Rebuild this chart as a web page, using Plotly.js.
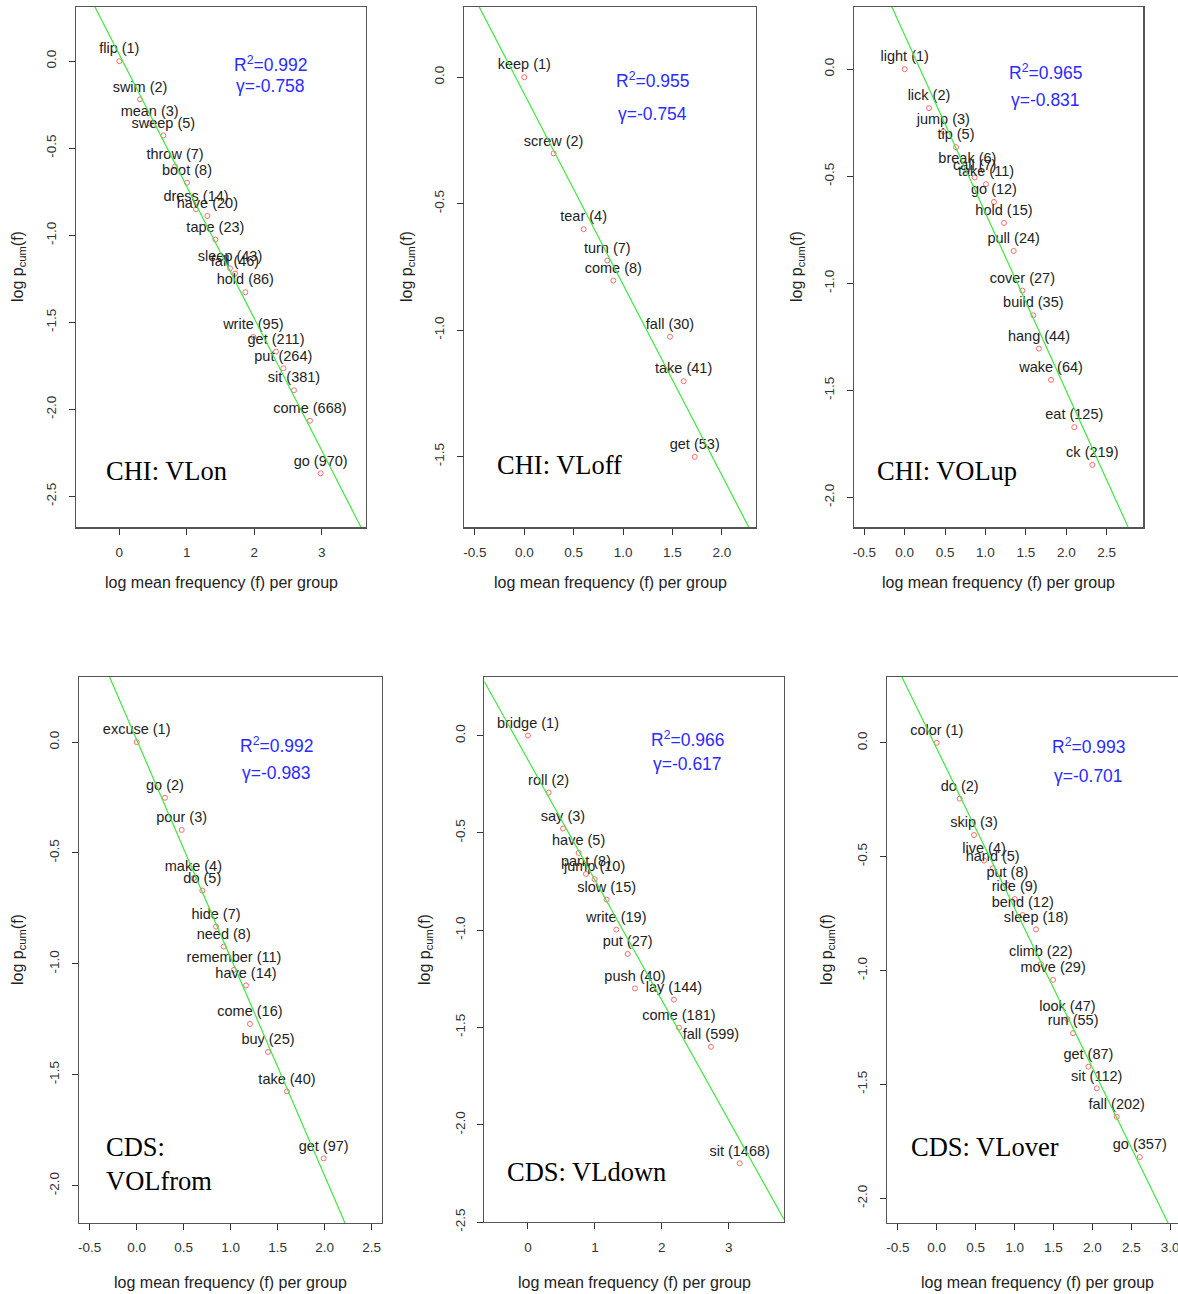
<!DOCTYPE html>
<html><head><meta charset="utf-8">
<script src="https://cdn.plot.ly/plotly-3.0.1.min.js"></script>
<style>html,body{margin:0;padding:0;background:#fff}#chart{width:1178px;height:1294px}</style>
</head><body><div id="chart"></div>
<script>
// ---------- data ----------
const panelNames = ["CHI: VLon", "CHI: VLoff", "CHI: VOLup", "CDS:<br>VOLfrom", "CDS: VLdown", "CDS: VLover"];
const rSquared = ["0.992", "0.955", "0.965", "0.992", "0.966", "0.993"];
const gammaVals = [-0.758, -0.754, -0.831, -0.983, -0.617, -0.701];
const lineIntercepts = [0.038, -0.066, 0.159, 0.010, -0.125, -0.025];

const vlonLabels = ["flip (1)","swim (2)","mean (3)","sweep (5)","throw (7)","boot (8)","dress (14)","have (20)","tape (23)","sleep (43)","fall (46)","hold (86)","write (95)","get (211)","put (264)","sit (381)","come (668)","go (970)"];
const vlonX = [0, 0.307, 0.45, 0.652, 0.826, 1.003, 1.137, 1.305, 1.424, 1.641, 1.715, 1.868, 1.987, 2.323, 2.431, 2.589, 2.826, 2.985];
const vlonY = [0, -0.219, -0.357, -0.426, -0.604, -0.698, -0.85, -0.889, -1.025, -1.19, -1.22, -1.327, -1.584, -1.668, -1.764, -1.89, -2.065, -2.367];

const vloffLabels = ["keep (1)","screw (2)","tear (4)","turn (7)","come (8)","fall (30)","take (41)","get (53)"];
const vloffX = [0, 0.297, 0.601, 0.84, 0.901, 1.475, 1.613, 1.725];
const vloffY = [0, -0.301, -0.601, -0.725, -0.804, -1.026, -1.202, -1.501];

const volupLabels = ["light (1)","lick (2)","jump (3)","tip (5)","break (6)","call (7)","take (11)","go (12)","hold (15)","pull (24)","cover (27)","build (35)","hang (44)","wake (64)","eat (125)","ck (219)"];
const volupX = [0, 0.301, 0.478, 0.635, 0.776, 0.866, 1.006, 1.105, 1.229, 1.349, 1.456, 1.592, 1.662, 1.811, 2.099, 2.322];
const volupY = [0, -0.182, -0.291, -0.364, -0.474, -0.506, -0.537, -0.62, -0.718, -0.849, -1.034, -1.149, -1.305, -1.451, -1.672, -1.848];

const volfromLabels = ["excuse (1)","go (2)","pour (3)","make (4)","do (5)","hide (7)","need (8)","remember (11)","have (14)","come (16)","buy (25)","take (40)","get (97)"];
const volfromX = [0, 0.301, 0.479, 0.603, 0.698, 0.844, 0.926, 1.035, 1.163, 1.205, 1.397, 1.599, 1.989];
const volfromY = [0, -0.251, -0.396, -0.614, -0.67, -0.832, -0.922, -1.027, -1.097, -1.271, -1.397, -1.575, -1.877];

const vldownLabels = ["bridge (1)","roll (2)","say (3)","have (5)","pant (8)","jump (10)","slow (15)","write (19)","put (27)","push (40)","lay (144)","come (181)","fall (599)","sit (1468)"];
const vldownX = [0, 0.309, 0.523, 0.757, 0.867, 0.996, 1.176, 1.32, 1.49, 1.599, 2.182, 2.257, 2.735, 3.164];
const vldownY = [0, -0.293, -0.478, -0.603, -0.711, -0.738, -0.843, -0.997, -1.122, -1.299, -1.357, -1.501, -1.599, -2.198];

const vloverLabels = ["color (1)","do (2)","skip (3)","live (4)","hand (5)","put (8)","ride (9)","bend (12)","sleep (18)","climb (22)","move (29)","look (47)","run (55)","get (87)","sit (112)","fall (202)","go (357)"];
const vloverX = [0, 0.295, 0.479, 0.608, 0.719, 0.908, 1.002, 1.105, 1.276, 1.337, 1.495, 1.679, 1.752, 1.949, 2.056, 2.313, 2.609];
const vloverY = [0, -0.245, -0.405, -0.517, -0.551, -0.624, -0.686, -0.756, -0.819, -0.972, -1.041, -1.213, -1.275, -1.422, -1.517, -1.642, -1.819];

// tick labels
const xTicksVLon = ["0","1","2","3"];
const xTicksVLoff = ["-0.5","0.0","0.5","1.0","1.5","2.0"];
const xTicksVOLup = ["-0.5","0.0","0.5","1.0","1.5","2.0","2.5"];
const xTicksVOLfrom = ["-0.5","0.0","0.5","1.0","1.5","2.0","2.5"];
const xTicksVLdown = ["0","1","2","3"];
const xTicksVLover = ["-0.5","0.0","0.5","1.0","1.5","2.0","2.5","3.0"];
const yTicksVLon = ["0.0","-0.5","-1.0","-1.5","-2.0","-2.5"];
const yTicksVLoff = ["0.0","-0.5","-1.0","-1.5"];
const yTicksVOLup = ["0.0","-0.5","-1.0","-1.5","-2.0"];
const yTicksVOLfrom = ["0.0","-0.5","-1.0","-1.5","-2.0"];
const yTicksVLdown = ["0.0","-0.5","-1.0","-1.5","-2.0","-2.5"];
const yTicksVLover = ["0.0","-0.5","-1.0","-1.5","-2.0"];

// ---------- layout geometry (pixels) ----------
const W = 1178, H = 1294;
const SANS = "Liberation Sans, Arial, Helvetica, sans-serif";
const SERIF = "Liberation Serif, Times New Roman, serif";

const series = [
  {labels: vlonLabels, x: vlonX, y: vlonY, xt: xTicksVLon, yt: yTicksVLon},
  {labels: vloffLabels, x: vloffX, y: vloffY, xt: xTicksVLoff, yt: yTicksVLoff},
  {labels: volupLabels, x: volupX, y: volupY, xt: xTicksVOLup, yt: yTicksVOLup},
  {labels: volfromLabels, x: volfromX, y: volfromY, xt: xTicksVOLfrom, yt: yTicksVOLfrom},
  {labels: vldownLabels, x: vldownX, y: vldownY, xt: xTicksVLdown, yt: yTicksVLdown},
  {labels: vloverLabels, x: vloverX, y: vloverY, xt: xTicksVLover, yt: yTicksVLover}
];

const geo = [
  {box: [76, 365.7, 6.9, 527.4], xr: [-0.642, 3.652], yr: [-2.678, 0.312], stat: [270, 64, 86], name: [104, 471], xtitle: [221, 583], ytitle: [18, 267], mirrorY: true},
  {box: [464, 755.7, 6.9, 527.4], xr: [-0.610, 2.342], yr: [-1.780, 0.278], stat: [652, 80, 114], name: [495, 465], xtitle: [610, 583], ytitle: [407, 267], mirrorY: true},
  {box: [853.7, 1143.3, 6.9, 527.4], xr: [-0.631, 2.953], yr: [-2.140, 0.291], stat: [1045, 72, 100], name: [875, 471], xtitle: [998, 583], ytitle: [797, 267], mirrorY: true},
  {box: [78.7, 382, 677, 1222.9], xr: [-0.617, 2.610], yr: [-2.168, 0.2935], stat: [276, 745, 773], name: [104, 1164], xtitle: [230, 1282], ytitle: [18, 950], mirrorY: true},
  {box: [484.3, 784, 677, 1222.1], xr: [-0.653, 3.827], yr: [-2.5, 0.301], stat: [687, 739, 764], name: [505, 1172], xtitle: [634, 1282], ytitle: [425, 950], mirrorY: true},
  {box: [886.7, 1178, 677, 1222.9], xr: [-0.643, 3.10], yr: [-2.108, 0.289], stat: [1088, 746, 776], name: [909, 1147], xtitle: [1037, 1282], ytitle: [827, 950], mirrorY: false}
];

const traces = [];
const layout = {
  width: W, height: H,
  margin: {l: 0, r: 0, t: 0, b: 0},
  paper_bgcolor: "#ffffff", plot_bgcolor: "#ffffff",
  showlegend: false,
  annotations: []
};

const px = v => v / W;
const py = v => 1 - v / H;

series.forEach((s, i) => {
  const g = geo[i];
  const n = i + 1;
  const xa = n === 1 ? "x" : "x" + n;
  const ya = n === 1 ? "y" : "y" + n;
  const xKey = n === 1 ? "xaxis" : "xaxis" + n;
  const yKey = n === 1 ? "yaxis" : "yaxis" + n;

  traces.push({
    type: "scatter", mode: "markers+text",
    x: s.x, y: s.y, text: s.labels,
    xaxis: xa, yaxis: ya,
    textposition: "top center",
    textfont: {family: SANS, size: 14.5, color: "#222"},
    marker: {symbol: "circle-open", size: 5, color: "#ff6b6b", line: {width: 1, color: "#ff6b6b"}},
    cliponaxis: false,
    hoverinfo: "skip"
  });
  traces.push({
    type: "scatter", mode: "lines",
    x: [g.xr[0], g.xr[1]],
    y: [lineIntercepts[i] + gammaVals[i] * g.xr[0], lineIntercepts[i] + gammaVals[i] * g.xr[1]],
    xaxis: xa, yaxis: ya,
    line: {color: "#3ee83e", width: 1.2},
    hoverinfo: "skip"
  });

  const axisCommon = {
    ticks: "outside", ticklen: 6, tickwidth: 1, tickcolor: "#333",
    showline: true, linecolor: "#555", linewidth: 1.2,
    showgrid: false, zeroline: false,
    tickfont: {family: SANS, size: 13.5, color: "#333"},
    tickmode: "array",
    ticklabeloverflow: "allow"
  };
  layout[xKey] = Object.assign({}, axisCommon, {
    domain: [px(g.box[0]), Math.min(1, px(g.box[1]))],
    range: g.xr, anchor: ya, mirror: true,
    tickvals: s.xt.map(Number), ticktext: s.xt,
    ticklabelstandoff: 6
  });
  layout[yKey] = Object.assign({}, axisCommon, {
    domain: [py(g.box[3]), py(g.box[2])],
    range: g.yr, anchor: xa, mirror: g.mirrorY,
    tickvals: s.yt.map(Number), ticktext: s.yt,
    tickangle: -90,
    ticklabelstandoff: 7
  });

  // R^2 and gamma
  layout.annotations.push({
    xref: "paper", yref: "paper", x: px(g.stat[0]), y: py(g.stat[1]),
    xanchor: "center", yanchor: "middle", showarrow: false,
    text: "R<sup>2</sup>=" + rSquared[i],
    font: {family: SANS, size: 17.5, color: "#2b2bff"}
  });
  layout.annotations.push({
    xref: "paper", yref: "paper", x: px(g.stat[0]), y: py(g.stat[2]),
    xanchor: "center", yanchor: "middle", showarrow: false,
    text: "γ=" + gammaVals[i].toFixed(3),
    font: {family: SANS, size: 17.5, color: "#2b2bff"}
  });
  // panel name
  layout.annotations.push({
    xref: "paper", yref: "paper", x: px(g.name[0]), y: py(g.name[1]),
    xanchor: "left", yanchor: "middle", showarrow: false, align: "left",
    text: panelNames[i],
    font: {family: SERIF, size: 26.5, color: "#000"}
  });
  // axis titles
  layout.annotations.push({
    xref: "paper", yref: "paper", x: px(g.xtitle[0]), y: py(g.xtitle[1]),
    xanchor: "center", yanchor: "middle", showarrow: false,
    text: "log mean frequency (f) per group",
    font: {family: SANS, size: 16, color: "#222"}
  });
  layout.annotations.push({
    xref: "paper", yref: "paper", x: px(g.ytitle[0]), y: py(g.ytitle[1]),
    xanchor: "center", yanchor: "middle", showarrow: false, textangle: -90,
    text: "log p<sub>cum</sub>(f)",
    font: {family: SANS, size: 16, color: "#222"}
  });
});

Plotly.newPlot("chart", traces, layout, {staticPlot: true, displayModeBar: false});
</script>
</body></html>
